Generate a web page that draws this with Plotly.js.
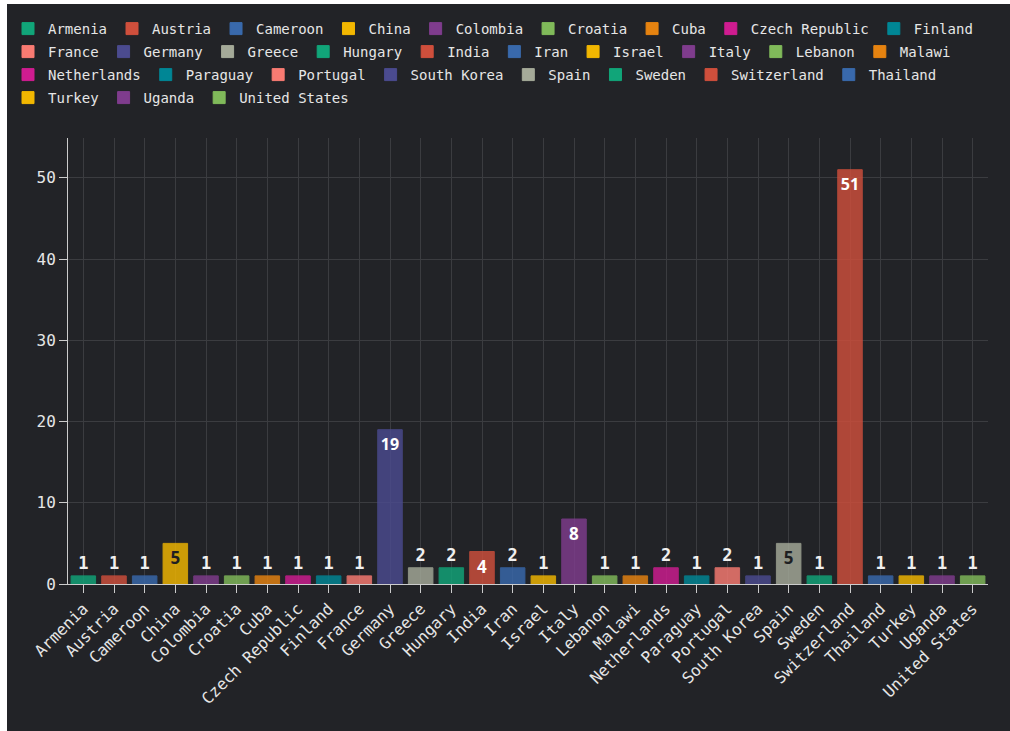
<!DOCTYPE html>
<html>
<head>
<meta charset="utf-8">
<script src="https://cdn.plot.ly/plotly-3.0.1.min.js"></script>
<style>
  html, body { margin: 0; padding: 0; background: #ffffff; }
  #chart { position: absolute; left: 7px; top: 4px; width: 1003px; height: 727px; }
</style>
</head>
<body>
<div id="chart"></div>
<script>
const countries = ["Armenia","Austria","Cameroon","China","Colombia","Croatia","Cuba","Czech Republic","Finland","France","Germany","Greece","Hungary","India","Iran","Israel","Italy","Lebanon","Malawi","Netherlands","Paraguay","Portugal","South Korea","Spain","Sweden","Switzerland","Thailand","Turkey","Uganda","United States"];
const counts = [1,1,1,5,1,1,1,1,1,1,19,2,2,4,2,1,8,1,1,2,1,2,1,5,1,51,1,1,1,1];
const palette = ["#11A579","#CF4F3C","#3969AC","#F2B701","#7F3C8D","#80BA5A","#E68310","#CF1C90","#008695","#F97B72","#4B4B8F","#A5AA99"];
const yTicks = [0,10,20,30,40,50];

// legend layout: index where each legend row starts, and row centre (px from top)
const legendRowStarts = [0, 9, 19, 27];
const legendRowCentres = [25, 48, 71, 94];
const H = 727, W = 1003;
const M = { l: 61, r: 22, t: 134, b: 147 };
const plotW = W - M.l - M.r, plotH = H - M.t - M.b;

const mono = "DejaVu Sans Mono, Liberation Mono, monospace";

function legendIdFor(i) {
  let r = 0;
  for (let k = 0; k < legendRowStarts.length; k++) if (i >= legendRowStarts[k]) r = k;
  return r === 0 ? "legend" : "legend" + (r + 1);
}

function contrastText(hex) {
  const n = parseInt(hex.slice(1), 16);
  const r = (n >> 16) & 255, g = (n >> 8) & 255, b = n & 255;
  const lum = (0.299 * r + 0.587 * g + 0.114 * b) / 255;
  return lum > 0.6 ? "#1e1f22" : "#ffffff";
}

const traces = countries.map((c, i) => {
  const col = palette[i % palette.length];
  return {
    type: "bar",
    name: c,
    x: [c],
    y: [counts[i]],
    text: [String(counts[i])],
    textposition: "auto",
    cliponaxis: false,
    legend: legendIdFor(i),
    outsidetextfont: { family: mono, size: 17, color: "#f0f0f0", weight: "bold" },
    insidetextfont: { family: "Open Sans, DejaVu Sans, sans-serif", size: 17, weight: "bold", color: contrastText(col) },
    textangle: 0,
    marker: { color: col, opacity: 0.82, line: { color: col, width: 1 } },
    hoverinfo: "x+y"
  };
});

const layout = {
  width: W,
  height: H,
  paper_bgcolor: "#222327",
  plot_bgcolor: "#222327",
  barmode: "overlay",
  bargap: 0.2,
  font: { family: mono, color: "#e6e6e6", size: 15 },
  margin: { l: M.l, r: M.r, t: M.t, b: M.b, pad: 0, autoexpand: false },
  showlegend: true,
  xaxis: {
    type: "category",
    categoryorder: "array",
    categoryarray: countries,
    tickangle: -45,
    ticks: "outside",
    ticklen: 8,
    tickcolor: "#cccccc",
    showline: true,
    linecolor: "#cccccc",
    linewidth: 1,
    showgrid: true,
    gridcolor: "#3b3c40",
    tickfont: { family: mono, size: 16, color: "#e6e6e6" },
    fixedrange: true
  },
  yaxis: {
    range: [0, 54.9],
    tickvals: yTicks,
    ticktext: yTicks.map(String),
    ticks: "outside",
    ticklen: 8,
    tickcolor: "#cccccc",
    showline: true,
    linecolor: "#cccccc",
    linewidth: 1,
    showgrid: true,
    gridcolor: "#3b3c40",
    zeroline: false,
    tickfont: { family: mono, size: 16, color: "#e6e6e6" },
    fixedrange: true
  }
};

legendRowCentres.forEach((cy, r) => {
  const key = r === 0 ? "legend" : "legend" + (r + 1);
  layout[key] = {
    orientation: "h",
    xref: "paper", yref: "paper",
    x: (1 - M.l) / plotW,
    y: (H - M.b - cy) / plotH,
    xanchor: "left", yanchor: "middle",
    font: { family: mono, size: 14, color: "#e6e6e6" },
    bgcolor: "rgba(0,0,0,0)",
    traceorder: "normal"
  };
});

Plotly.newPlot("chart", traces, layout, { displayModeBar: false, staticPlot: true });
</script>
</body>
</html>
